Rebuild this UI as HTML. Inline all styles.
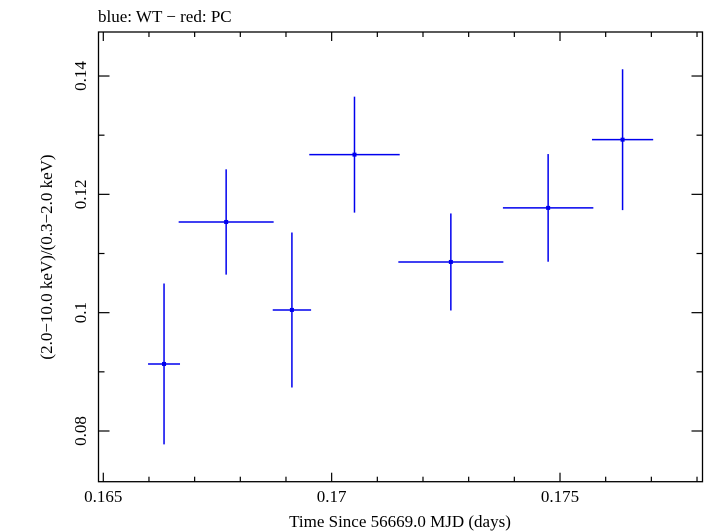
<!DOCTYPE html>
<html><head><meta charset="utf-8"><style>
html,body{margin:0;padding:0;background:#fff;}
svg{display:block;font-family:"Liberation Serif",serif;}
</style></head><body>
<svg id="chart" width="705" height="532" viewBox="0 0 705 532">
<text x="98" y="22" font-size="17">blue: WT − red: PC</text>
<rect x="98.5" y="32" width="604" height="449.7" fill="none" stroke="#000" stroke-width="1.3"/>
<g id="ticks"></g>
<g id="marks"></g>
<text x="400" y="527" font-size="17" text-anchor="middle">Time Since 56669.0 MJD (days)</text>
<text transform="translate(52,257) rotate(-90)" font-size="17" text-anchor="middle">(2.0−10.0 keV)/(0.3−2.0 keV)</text>
</svg>
<script>
const times = [0.16633, 0.16769, 0.16913, 0.17050, 0.17261, 0.17474, 0.17637];
const timeErrors = [0.00035, 0.00104, 0.00042, 0.00099, 0.00115, 0.00099, 0.00067];
const ratios = [0.09133, 0.11533, 0.10046, 0.12671, 0.10857, 0.11771, 0.12924];
const ratioErrors = [0.0136, 0.0089, 0.0131, 0.0098, 0.0082, 0.0091, 0.0119];
const xTickValues = [0.165, 0.17, 0.175];
const xTickLabels = ["0.165", "0.17", "0.175"];
const yTickValues = [0.08, 0.1, 0.12, 0.14];
const yTickLabels = ["0.08", "0.1", "0.12", "0.14"];

const X0=98.5, X1=702.5, Y0=481.7, Y1=32;
const xMin=0.164895, xMax=0.17812, yMin=0.07143, yMax=0.14744;
const sx=v=>X0+(v-xMin)/(xMax-xMin)*(X1-X0);
const sy=v=>Y0-(v-yMin)/(yMax-yMin)*(Y0-Y1);
const NS="http://www.w3.org/2000/svg";
function mk(tag,attrs,parent){const e=document.createElementNS(NS,tag);for(const k in attrs)e.setAttribute(k,attrs[k]);parent.appendChild(e);return e;}
const tg=document.getElementById('ticks'), mg=document.getElementById('marks');
for(let i=0;i<=14;i++){const v=0.165+i*0.001;if(v>xMax)break;const x=sx(v);const maj=i%5===0;const L=maj?9:5;
 const t=mk('line',{x1:x,x2:x,y1:Y0,y2:Y0-L,stroke:'#000','stroke-width':1.2},tg);
 
 
 const t2=mk('line',{x1:x,x2:x,y1:Y1,y2:Y1+L,stroke:'#000','stroke-width':1.2},tg);
 
 }
for(let i=0;i<=8;i++){const v=0.08+i*0.01;if(v>yMax)break;const y=sy(v);const maj=i%2===0;const L=maj?11:6;
 const t=mk('line',{x1:X0,x2:X0+L,y1:y,y2:y,stroke:'#000','stroke-width':1.2},tg);
 
 
 const t2=mk('line',{x1:X1,x2:X1-L,y1:y,y2:y,stroke:'#000','stroke-width':1.2},tg);
 
 }
xTickValues.forEach((v,i)=>{const t=mk('text',{x:sx(v),y:502,'font-size':17,'text-anchor':'middle'},tg);t.textContent=xTickLabels[i];
 
 });
yTickValues.forEach((v,i)=>{const y=sy(v);const t=mk('text',{transform:`translate(86,${y}) rotate(-90)`,'font-size':17,'text-anchor':'middle'},tg);t.textContent=yTickLabels[i];
 
 });
times.forEach((t,i)=>{const g=mk('g',{},mg);
 
 
 const x=sx(t),y=sy(ratios[i]);
 mk('line',{x1:sx(t-timeErrors[i]),x2:sx(t+timeErrors[i]),y1:y,y2:y,stroke:'#0000ee','stroke-width':1.5},g);
 mk('line',{x1:x,x2:x,y1:sy(ratios[i]-ratioErrors[i]),y2:sy(ratios[i]+ratioErrors[i]),stroke:'#0000ee','stroke-width':1.5},g);
 mk('rect',{x:x-2,y:y-2,width:4,height:4,fill:'#0000ee'},g);});
</script>
</body></html>
